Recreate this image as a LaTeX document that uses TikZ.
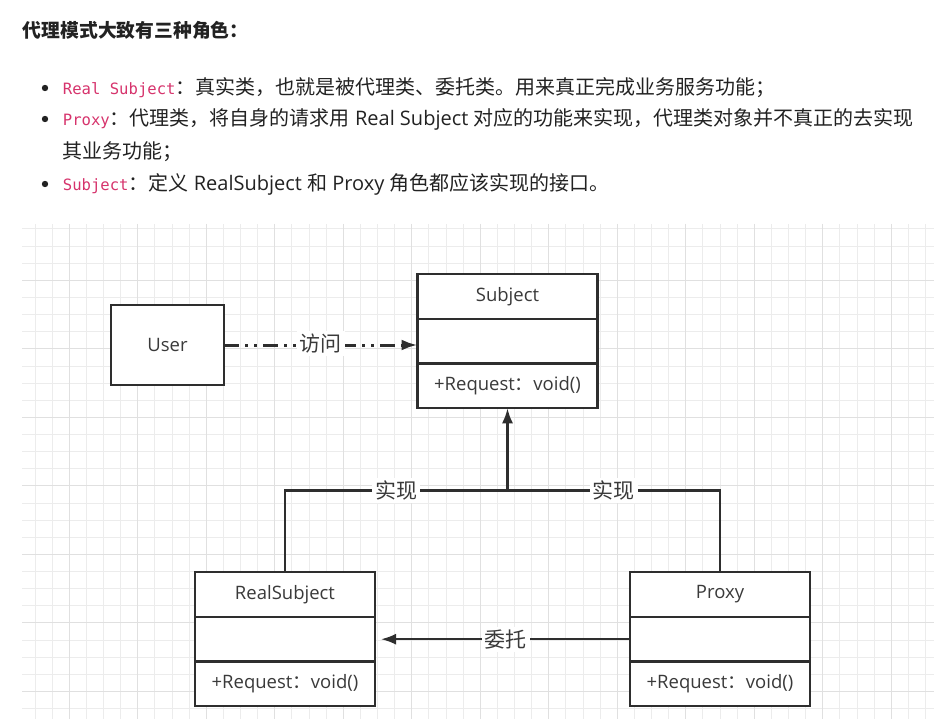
\documentclass[tikz,border=0pt]{standalone}
\usepackage{fontspec}
\setmainfont{Open Sans}
\newfontfamily\cjk{Noto Sans CJK SC}
\newfontfamily\monofam{DejaVu Sans Mono}
\usepackage{xcolor}
\usetikzlibrary{arrows.meta}
\usetikzlibrary{positioning}

\definecolor{ink}{HTML}{222222}
\definecolor{boxline}{HTML}{2E2E2E}
\definecolor{labelgray}{HTML}{3A3A3A}
\definecolor{codepink}{HTML}{D6336C}
\definecolor{gridminor}{HTML}{ECECEC}
\definecolor{gridmajor}{HTML}{E0E0E0}

\newcommand{\codeword}[1]{{\color{codepink}\monofam\fontsize{15.6}{20}\selectfont #1}}

\begin{document}
\begin{tikzpicture}[x=1pt,y=-1pt,
	umlpart/.style={draw=boxline, line width=2.4pt, fill=white, minimum width=180pt, minimum height=44.7pt, outer sep=0pt, inner sep=0pt, text=labelgray, font=\fontsize{18.5}{22}\selectfont},
	conn/.style={draw=boxline, line width=2.2pt},
	dashdot/.style={draw=boxline, line width=3pt, dash pattern=on 15pt off 6pt on 3pt off 6pt on 3pt off 6pt},
	lbl/.style={fill=white, inner sep=3pt, text=labelgray, font=\cjk\fontsize{21}{24}\selectfont},
	bodyline/.style={anchor=west, inner sep=0pt, text=ink, font=\fontsize{20}{24}\selectfont}]

	\useasboundingbox (0,0) rectangle (950,719);

	% heading and bullet list
	\node[anchor=west, inner sep=0pt, text=ink, font=\cjk\bfseries\fontsize{18.8}{22}\selectfont] (title) at (22.7,30.7) {代理模式大致有三种角色：};

	\fill[ink] (45,88) circle (3.2pt);
	\fill[ink] (45,119) circle (3.2pt);
	\fill[ink] (45,184) circle (3.2pt);

	\node[bodyline] (itemreal) at (62.7,88) {\codeword{Real Subject}{\cjk ：真实类，也就是被代理类、委托类。用来真正完成业务服务功能；}};
	\node[bodyline] (itemproxy) at (62.7,119) {\codeword{Proxy}{\cjk ：代理类，将自身的请求用} Real Subject {\cjk 对应的功能来实现，代理类对象并不真正的去实现}};
	\node[bodyline] (itemproxymore) at (62.7,152) {\cjk 其业务功能；};
	\node[bodyline] (itemsubj) at (62.7,184) {\codeword{Subject}{\cjk ：定义} RealSubject {\cjk 和} Proxy {\cjk 角色都应该实现的接口。}};

	% grid
	\foreach \i in {0,...,52}
		\draw[gridminor, line width=1pt] ({35+17.125*\i},224) -- ({35+17.125*\i},719);
	\foreach \j in {0,...,28}
		\draw[gridminor, line width=1pt] (22,{229+17.125*\j}) -- (934,{229+17.125*\j});
	\foreach \i in {0,...,12}
		\draw[gridmajor, line width=1pt] ({69.25+68.5*\i},224) -- ({69.25+68.5*\i},719);
	\foreach \j in {0,...,6}
		\draw[gridmajor, line width=1pt] (22,{280.4+68.5*\j}) -- (934,{280.4+68.5*\j});

	% User
	\node[draw=boxline, line width=2.4pt, fill=white, minimum width=113pt, minimum height=80pt, outer sep=0pt, text=labelgray, font=\fontsize{18.5}{22}\selectfont] (user) at (167.5,345) {User};

	% Subject
	\node[umlpart] (subjname) at (507.5,296.5) {Subject};
	\node[umlpart, below=0pt of subjname] (subjattr) {};
	\node[umlpart, below=0pt of subjattr] (subjop) {+Request{\cjk ：}void()};

	% RealSubject
	\node[umlpart] (realname) at (285,594.5) {RealSubject};
	\node[umlpart, below=0pt of realname] (realattr) {};
	\node[umlpart, below=0pt of realattr] (realop) {+Request{\cjk ：}void()};

	% Proxy
	\node[umlpart] (proxyname) at (720,594.5) {Proxy};
	\node[umlpart, below=0pt of proxyname] (proxyattr) {};
	\node[umlpart, below=0pt of proxyattr] (proxyop) {+Request{\cjk ：}void()};

	% Arrows
	\coordinate (fork) at (507.5,490.5);
	\draw[dashdot, -{Latex[length=16pt,width=11pt]}] (user.east) -- (user.east -| subjattr.west) node[lbl, midway, yshift=1.5pt] {访问};
	\draw[conn] (realname.north) |- node[lbl, pos=0.75] {实现} (fork);
	\draw[conn] (proxyname.north) |- node[lbl, pos=0.75] {实现} (fork);
	\draw[conn, -{Latex[length=15pt,width=11pt]}] (fork) -- (subjop.south);
	\draw[conn, -{Latex[length=15pt,width=11pt]}] (proxyattr.west) -- ([xshift=6pt]realattr.east) node[lbl, midway] {委托};

\end{tikzpicture}
\end{document}
